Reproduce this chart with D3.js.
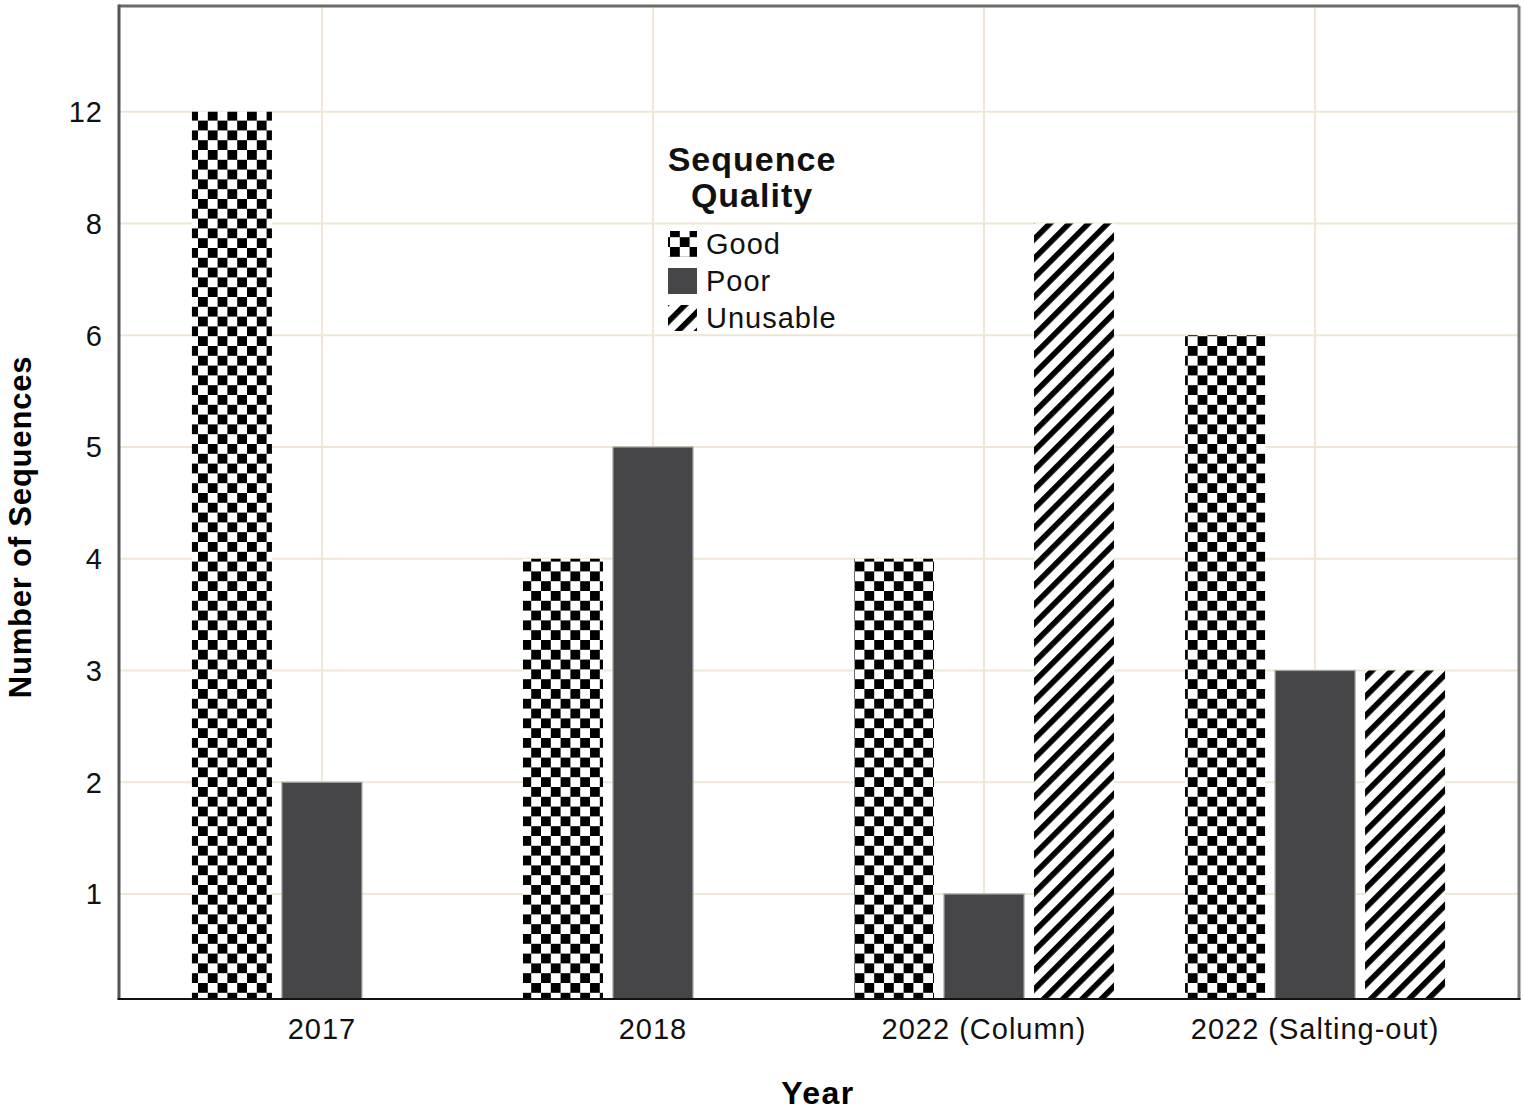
<!DOCTYPE html>
<html>
<head>
<meta charset="utf-8">
<script src="https://cdn.jsdelivr.net/npm/d3@7"></script>
<style>
  html, body { margin: 0; padding: 0; background: #ffffff; }
  svg { display: block; }
</style>
</head>
<body>
<svg id="chart" width="1524" height="1115"></svg>
<script>
// ---- data ----
const categories = ["2017", "2018", "2022 (Column)", "2022 (Salting-out)"];
const series = ["Good", "Poor", "Unusable"];
const goodValues = [12, 4, 4, 6];
const poorValues = [2, 5, 1, 3];
const unusableValues = [0, 0, 8, 3];
const yTickValues = [1, 2, 3, 4, 5, 6, 8, 12];
const xTitle = "Year";
const yTitle = "Number of Sequences";
const legendTitle = ["Sequence", "Quality"];

// ---- layout ----
const W = 1524, H = 1115;
const plot = { left: 119, right: 1518, top: 6, bottom: 999 };
const firstTickOffset = 105;
const tickStep = 111.75;

const svg = d3.select("#chart");
const defs = svg.append("defs");

// checker pattern
const chk = defs.append("pattern").attr("id", "checker")
  .attr("patternUnits", "userSpaceOnUse").attr("width", 19.6).attr("height", 19.6)
  .attr("x", 2).attr("y", 3);
chk.append("rect").attr("width", 19.6).attr("height", 19.6).attr("fill", "#fff");
chk.append("rect").attr("width", 9.8).attr("height", 9.8).attr("fill", "#000");
chk.append("rect").attr("x", 9.8).attr("y", 9.8).attr("width", 9.8).attr("height", 9.8).attr("fill", "#000");

// hatch pattern "/"
const hat = defs.append("pattern").attr("id", "hatch")
  .attr("patternUnits", "userSpaceOnUse").attr("width", 13.6).attr("height", 13.6)
  .attr("patternTransform", "rotate(45)");
hat.append("rect").attr("width", 13.6).attr("height", 13.6).attr("fill", "#fff");
hat.append("rect").attr("width", 5.6).attr("height", 13.6).attr("fill", "#000");

const fills = { Good: "url(#checker)", Poor: "#464649", Unusable: "url(#hatch)" };

// scales
const yDomain = [0].concat(yTickValues);
const yRange = yDomain.map((d, i) => i === 0 ? plot.bottom : plot.bottom - firstTickOffset - (i - 1) * tickStep);
const y = d3.scaleLinear().domain(yDomain).range(yRange);

const x = d3.scaleBand().domain(categories).range([plot.left, plot.right])
  .paddingInner(0).paddingOuter(0.113);
const xs = d3.scaleBand().domain(series).range([-130, 130]).paddingInner(1 / 9).paddingOuter(0);

// gridlines
const grid = svg.append("g");
grid.selectAll("line.h").data(yTickValues).join("line")
  .attr("x1", plot.left).attr("x2", plot.right)
  .attr("y1", d => y(d)).attr("y2", d => y(d))
  .attr("stroke", "#efe7d3").attr("stroke-width", 2);
grid.selectAll("line.v").data(categories).join("line")
  .attr("y1", plot.top).attr("y2", plot.bottom)
  .attr("x1", d => x(d) + x.bandwidth() / 2).attr("x2", d => x(d) + x.bandwidth() / 2)
  .attr("stroke", "#efe7d3").attr("stroke-width", 2);

// bars
const rows = [];
categories.forEach((c, i) => {
  rows.push({ cat: c, s: "Good", v: goodValues[i] });
  rows.push({ cat: c, s: "Poor", v: poorValues[i] });
  rows.push({ cat: c, s: "Unusable", v: unusableValues[i] });
});
svg.append("g").selectAll("rect").data(rows.filter(r => r.v > 0)).join("rect")
  .attr("x", d => x(d.cat) + x.bandwidth() / 2 + xs(d.s))
  .attr("width", xs.bandwidth())
  .attr("y", d => y(d.v))
  .attr("height", d => y(0) - y(d.v))
  .attr("fill", d => fills[d.s])
  .attr("stroke", d => d.s === "Poor" ? "#a3a3a3" : "none")
  .attr("stroke-width", 1.2);

// frame
svg.append("line").attr("x1", plot.left).attr("x2", plot.right + 1).attr("y1", plot.top).attr("y2", plot.top)
  .attr("stroke", "#6a6a6a").attr("stroke-width", 3);
svg.append("line").attr("x1", plot.right + 1).attr("x2", plot.right + 1).attr("y1", plot.top).attr("y2", plot.bottom)
  .attr("stroke", "#7a7a7a").attr("stroke-width", 3);
svg.append("line").attr("x1", plot.left).attr("x2", plot.left).attr("y1", plot.top - 1.5).attr("y2", plot.bottom)
  .attr("stroke", "#555", ).attr("stroke-width", 3);
svg.append("line").attr("x1", plot.left - 1.5).attr("x2", plot.right + 2.5).attr("y1", plot.bottom).attr("y2", plot.bottom)
  .attr("stroke", "#111").attr("stroke-width", 2);

// y tick labels
const fontR = "'Liberation Sans', Arial, sans-serif";
svg.append("g").selectAll("text").data(yTickValues).join("text")
  .attr("x", 103).attr("y", d => y(d)).attr("dy", "0.36em")
  .attr("text-anchor", "end")
  .attr("font-family", fontR).attr("font-size", 29).attr("letter-spacing", 1)
  .attr("fill", "#111")
  .text(d => d);

// x tick labels
svg.append("g").selectAll("text").data(categories).join("text")
  .attr("x", d => x(d) + x.bandwidth() / 2).attr("y", 1039)
  .attr("text-anchor", "middle")
  .attr("font-family", fontR).attr("font-size", 29).attr("letter-spacing", 1)
  .attr("fill", "#111")
  .text(d => d);

// axis titles
svg.append("text").attr("x", 818).attr("y", 1104).attr("text-anchor", "middle")
  .attr("font-family", fontR).attr("font-weight", "bold").attr("font-size", 32).attr("letter-spacing", 1.5)
  .attr("fill", "#000").text(xTitle);
svg.append("text").attr("transform", "translate(31,527) rotate(-90)").attr("text-anchor", "middle")
  .attr("font-family", fontR).attr("font-weight", "bold").attr("font-size", 31).attr("letter-spacing", 0.8)
  .attr("fill", "#000").text(yTitle);

// legend
const lg = svg.append("g");
lg.selectAll("text.t").data(legendTitle).join("text")
  .attr("x", 752).attr("y", (d, i) => 171 + i * 36)
  .attr("text-anchor", "middle")
  .attr("font-family", fontR).attr("font-weight", "bold").attr("font-size", 34).attr("letter-spacing", 1)
  .attr("fill", "#111").text(d => d);
const li = lg.selectAll("g.item").data(series).join("g")
  .attr("transform", (d, i) => `translate(668, ${244 + i * 37})`);
li.append("rect").attr("x", 0).attr("y", -13).attr("width", 29).attr("height", 26)
  .attr("fill", d => fills[d]);
li.append("text").attr("x", 38).attr("y", 0).attr("dy", "0.36em")
  .attr("font-family", fontR).attr("font-size", 29).attr("letter-spacing", 1)
  .attr("fill", "#111").text(d => d);
</script>
</body>
</html>
